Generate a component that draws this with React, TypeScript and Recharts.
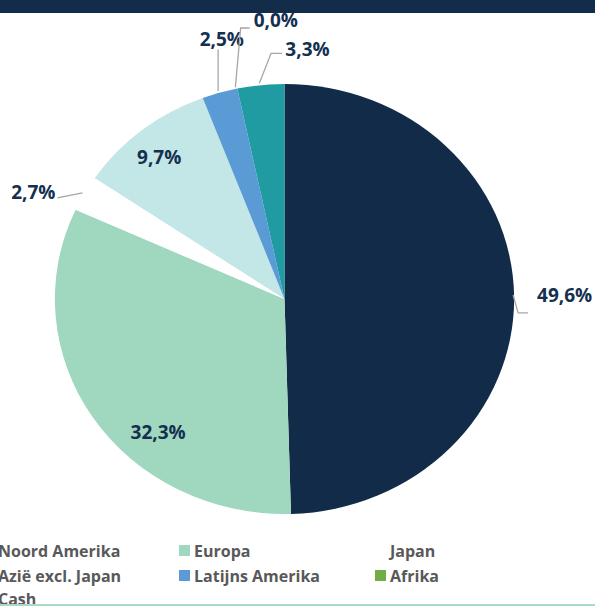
import React from "react";
import { PieChart, Pie } from "recharts";

const categories = [
  "Noord Amerika",
  "Europa",
  "Japan",
  "Azië excl. Japan",
  "Latijns Amerika",
  "Afrika",
  "Cash",
];
const weights = [49.6, 32.3, 2.7, 9.7, 2.5, 0.0, 3.3];
const colors = ["#112B49", "#A0D7BF", "#FFFFFF", "#C3E6E6", "#5B9BD5", "#70AD47", "#1F9BA1"];

// label placement relative to the slice's outer edge point (style only)
type LabelCfg = { dx: number; dy: number; anchor: "start" | "middle" | "end"; line?: [number, number][] };
const labelLayout: LabelCfg[] = [
  { dx: 23, dy: -1, anchor: "start", line: [[-1, -1], [4, 17], [14, 17]] },
  { dx: 65, dy: 14.5, anchor: "middle" },
  { dx: -29, dy: -1.5, anchor: "end", line: [[-2, -0.5], [-27, 4.5]] },
  { dx: 17, dy: 27, anchor: "middle" },
  { dx: 2, dy: -54, anchor: "middle", line: [[-1.7, -1.6], [-1.7, -43.3]] },
  { dx: 16.4, dy: -68.3, anchor: "start", line: [[-1.9, -1.3], [3.4, -60.6], [12.4, -60.6]] },
  { dx: 24.6, dy: -36.6, anchor: "start", line: [[-1.4, -1.8], [10.3, -31.8], [21.3, -31.8]] },
];

const data = categories.map((name, i) => ({ name, value: weights[i] }));

const X_STRETCH = 1.068;
const RAD = Math.PI / 180;

function pt(cx: number, cy: number, rx: number, ry: number, a: number) {
  return [cx + rx * Math.cos(-a * RAD), cy + ry * Math.sin(-a * RAD)];
}

function ellipseSector(cx: number, cy: number, rx: number, ry: number, a1: number, a2: number) {
  const [x1, y1] = pt(cx, cy, rx, ry, a1);
  const [x2, y2] = pt(cx, cy, rx, ry, a2);
  const large = Math.abs(a1 - a2) > 180 ? 1 : 0;
  return `M${cx},${cy} L${x1},${y1} A${rx},${ry} 0 ${large} 1 ${x2},${y2} Z`;
}

const renderLabel = (props: any) => {
  const { cx, cy, midAngle, outerRadius, startAngle, endAngle, index, value } = props;
  const rx = outerRadius * X_STRETCH;
  const ry = outerRadius;
  const [ex, ey] = pt(cx, cy, rx, ry, midAngle);
  const cfg = labelLayout[index];
  const span = Math.abs(startAngle - endAngle);
  return (
    <g key={`lbl-${index}`}>
      {span > 0.01 && (
        <path d={ellipseSector(cx, cy, rx, ry, startAngle, endAngle)} fill={colors[index]} stroke="none" />
      )}
      {cfg.line && (
        <polyline
          points={cfg.line.map(([x, y]) => `${ex + x},${ey + y}`).join(" ")}
          fill="none"
          stroke="#A6A6A6"
          strokeWidth={1.3}
        />
      )}
      <text
        x={ex + cfg.dx}
        y={ey + cfg.dy}
        textAnchor={cfg.anchor}
        dominantBaseline="central"
        fill="#14304F"
        fontFamily="'Open Sans', sans-serif"
        fontWeight={700}
        fontSize={19}
      >
        {Number(value).toFixed(1).replace(".", ",")}%
      </text>
    </g>
  );
};

const legendCols = [-17, 179, 375];
const legendRows = [551, 576, 599];

export default function App() {
  return (
    <div
      style={{
        position: "absolute",
        left: 0,
        top: 0,
        width: 595,
        height: 606,
        overflow: "hidden",
        background: "#FFFFFF",
        fontFamily: "'Open Sans', sans-serif",
      }}
    >
      <div style={{ position: "absolute", left: 0, top: 0, width: 595, height: 13, background: "#132C4A" }} />
      <div style={{ position: "absolute", left: 0, top: 0 }}>
        <PieChart width={595} height={530} margin={{ top: 0, right: 0, bottom: 0, left: 0 }}>
          <Pie
            data={data}
            dataKey="value"
            nameKey="name"
            cx={284.5}
            cy={299}
            outerRadius={215}
            startAngle={90}
            endAngle={-270}
            fill="none"
            stroke="none"
            label={renderLabel}
            labelLine={false}
            isAnimationActive={false}
          />
        </PieChart>
      </div>
      {categories.map((name, i) => {
        const col = i % 3;
        const row = Math.floor(i / 3);
        const x = legendCols[col];
        const y = legendRows[row];
        return (
          <div key={name}>
            <div
              style={{
                position: "absolute",
                left: x,
                top: y - 6,
                width: 11,
                height: 11,
                background: colors[i],
              }}
            />
            <div
              style={{
                position: "absolute",
                left: x + 15,
                top: y - 12,
                height: 24,
                lineHeight: "24px",
                fontSize: 16,
                fontWeight: 700,
                color: "#595959",
                whiteSpace: "nowrap",
              }}
            >
              {name}
            </div>
          </div>
        );
      })}
      <div style={{ position: "absolute", left: 0, top: 604, width: 595, height: 2, background: "#A9DAC4" }} />
    </div>
  );
}
